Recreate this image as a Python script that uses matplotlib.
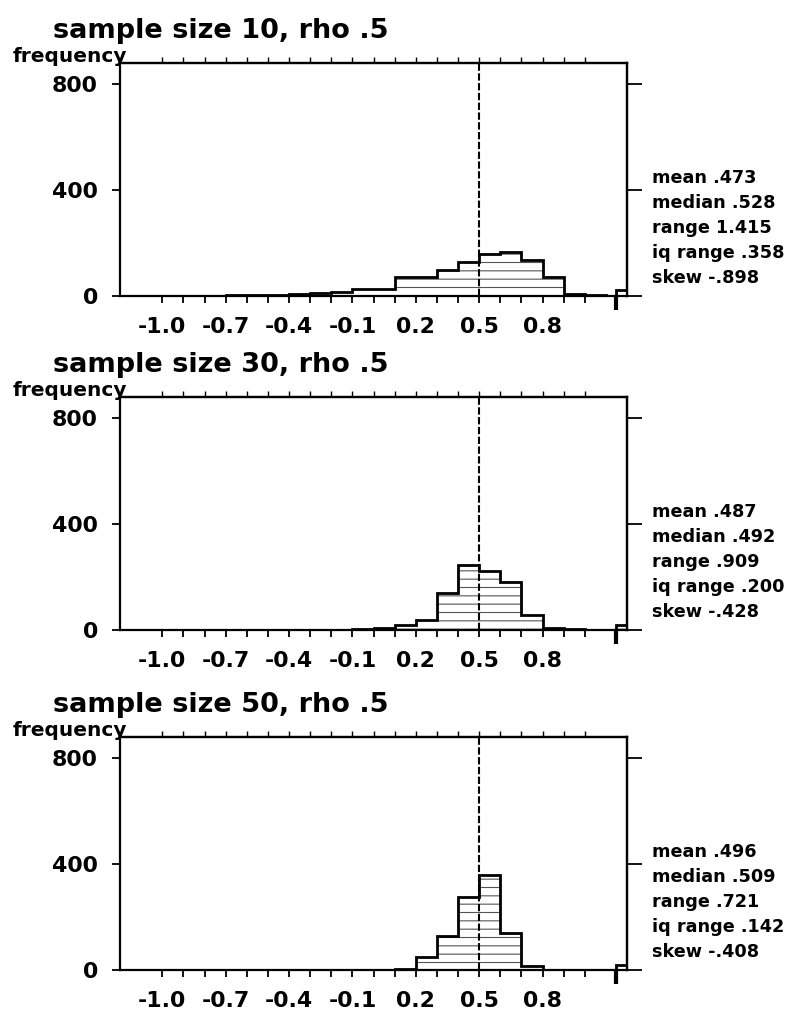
import numpy as np
import matplotlib
matplotlib.use("Agg")
import matplotlib.pyplot as plt

plt.rcParams['font.family'] = ['DejaVu Sans']
plt.rcParams['font.weight'] = 'bold'
plt.rcParams['hatch.linewidth'] = 0.8
plt.rcParams['axes.unicode_minus'] = False

# ---------------- data ----------------
sample_sizes = [10, 30, 50]
rho = 0.5
rho_label = ".5"

bin_edges = [-1.0, -0.9, -0.8, -0.7, -0.6, -0.5, -0.4, -0.3, -0.2, -0.1, 0.0,
             0.1, 0.2, 0.3, 0.4, 0.5, 0.6, 0.7, 0.8, 0.9, 1.0, 1.1, 1.15, 1.2]

counts_n10 = [0, 1, 1, 2, 2, 5, 6, 13, 14, 26, 27,
              70, 71, 100, 128, 160, 166, 137, 70, 8, 2, 0, 22]
counts_n30 = [0, 0, 0, 0, 0, 0, 0, 0, 1, 2, 6,
              19, 38, 141, 244, 222, 180, 57, 6, 3, 0, 0, 18]
counts_n50 = [0, 0, 0, 0, 0, 0, 0, 0, 0, 0, 1,
              3, 48, 128, 275, 358, 140, 15, 1, 0, 0, 0, 18]
all_counts = [counts_n10, counts_n30, counts_n50]

stats_labels = ["mean", "median", "range", "iq range", "skew"]
stats_n10 = [".473", ".528", "1.415", ".358", "-.898"]
stats_n30 = [".487", ".492", ".909", ".200", "-.428"]
stats_n50 = [".496", ".509", ".721", ".142", "-.408"]
all_stats = [stats_n10, stats_n30, stats_n50]

xtick_values = [-1.0, -0.7, -0.4, -0.1, 0.2, 0.5, 0.8]
xtick_labels = ["-1.0", "-0.7", "-0.4", "-0.1", "0.2", "0.5", "0.8"]
xminor_values = [-1.0, -0.9, -0.8, -0.7, -0.6, -0.5, -0.4, -0.3, -0.2, -0.1, 0.0,
                 0.1, 0.2, 0.3, 0.4, 0.5, 0.6, 0.7, 0.8, 0.9, 1.0]
ytick_values = [0, 400, 800]
ytick_labels = ["0", "400", "800"]
overflow_edge = 1.15

# ---------------- figure ----------------
W, H = 792, 1025
fig = plt.figure(figsize=(W / 100, H / 100), dpi=100)

left = 120 / W
width = 507 / W
height = 233 / H
zero_lines = [296, 630, 970]

for n, counts, stats, zl in zip(sample_sizes, all_counts, all_stats, zero_lines):
    ax = fig.add_axes([left, 1 - zl / H, width, height])
    ax.set_xlim(-1.2, 1.2)
    ax.set_ylim(0, 880)

    # hatched fill
    ax.stairs(counts, bin_edges, fill=True, facecolor='white',
              edgecolor='#555555', linewidth=0, hatch='--', zorder=1)
    # outline
    ax.stairs(counts, bin_edges, fill=False, baseline=0,
              color='black', linewidth=2.0, zorder=2)
    # rho reference line
    ax.axvline(rho, color='black', linewidth=1.5, linestyle=(0, (3.5, 1.2)), zorder=3)

    for s in ax.spines.values():
        s.set_linewidth(1.6)

    # x ticks (bottom)
    ax.set_xticks(xtick_values + [overflow_edge])
    ax.set_xticklabels(xtick_labels + [""])
    ax.set_xticks(xminor_values, minor=True)
    ax.tick_params(axis='x', which='both', direction='out', length=5, width=1.3,
                   top=False, bottom=True, labelsize=15.8, pad=10)
    big = ax.xaxis.get_major_ticks()[-1]
    big.tick1line.set_markersize(10)
    big.tick1line.set_markeredgewidth(3)

    # y ticks (left)
    ax.set_yticks(ytick_values)
    ax.set_yticklabels(ytick_labels)
    ax.tick_params(axis='y', direction='out', length=6, width=1.3,
                   left=True, right=False, labelsize=15.9, pad=10)

    # top ticks
    sx = ax.secondary_xaxis('top')
    sx.set_xticks(xminor_values)
    sx.set_xticklabels([])
    sx.tick_params(direction='out', length=4, width=1.0)
    sx.spines['top'].set_linewidth(1.6)

    # right ticks
    sy = ax.secondary_yaxis('right')
    sy.set_yticks(ytick_values)
    sy.set_yticklabels([])
    sy.tick_params(direction='out', length=11, width=1.3)
    sy.spines['right'].set_linewidth(1.6)

    # titles and labels
    ax.text(-0.132, 1.107, f"sample size {n}, rho {rho_label}", transform=ax.transAxes,
            fontsize=19.5, ha='left', va='baseline')
    ax.text(0.014, 1.006, "frequency", transform=ax.transAxes,
            fontsize=14.5, ha='right', va='baseline')

    for i, (lab, val) in enumerate(zip(stats_labels, stats)):
        ax.text(1.049, 0.506 - i * 0.107, f"{lab} {val}", transform=ax.transAxes,
                fontsize=12.7, ha='left', va='center')

fig.savefig("out.png", dpi=100)
